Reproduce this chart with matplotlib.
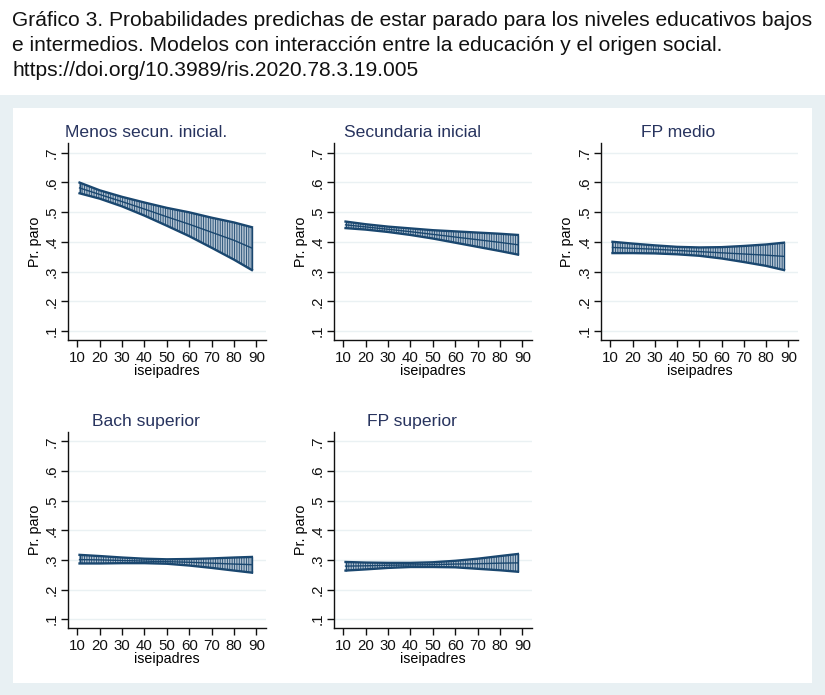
import matplotlib.pyplot as plt
from matplotlib.patches import Rectangle

plt.rcParams['font.family'] = ['Liberation Sans', 'DejaVu Sans']
plt.rcParams['hatch.linewidth'] = 0.6

# Datos (probabilidad predicha e intervalo de confianza)
iseipadres = [11, 20, 30, 40, 50, 60, 70, 80, 88]

titulos = ["Menos secun. inicial.", "Secundaria inicial", "FP medio",
           "Bach superior", "FP superior"]

menos_sec_pred = [0.581, 0.559, 0.535, 0.510, 0.484, 0.459, 0.432, 0.405, 0.379]
menos_sec_sup = [0.599, 0.573, 0.551, 0.532, 0.514, 0.499, 0.481, 0.465, 0.449]
menos_sec_inf = [0.563, 0.545, 0.519, 0.488, 0.454, 0.419, 0.380, 0.340, 0.305]

sec_ini_pred = [0.457, 0.450, 0.442, 0.434, 0.425, 0.416, 0.407, 0.398, 0.390]
sec_ini_sup = [0.468, 0.459, 0.451, 0.445, 0.439, 0.435, 0.431, 0.427, 0.423]
sec_ini_inf = [0.446, 0.441, 0.433, 0.423, 0.411, 0.397, 0.383, 0.369, 0.357]

fp_medio_pred = [0.381, 0.378, 0.375, 0.371, 0.367, 0.363, 0.359, 0.355, 0.351]
fp_medio_sup = [0.400, 0.394, 0.388, 0.383, 0.381, 0.382, 0.386, 0.391, 0.397]
fp_medio_inf = [0.362, 0.362, 0.361, 0.358, 0.353, 0.344, 0.332, 0.319, 0.305]

bach_sup_pred = [0.301, 0.300, 0.298, 0.296, 0.294, 0.292, 0.289, 0.286, 0.284]
bach_sup_sup = [0.317, 0.313, 0.308, 0.304, 0.302, 0.303, 0.305, 0.308, 0.310]
bach_sup_inf = [0.288, 0.288, 0.289, 0.289, 0.287, 0.281, 0.273, 0.264, 0.257]

fp_sup_pred = [0.279, 0.280, 0.282, 0.283, 0.284, 0.286, 0.287, 0.289, 0.290]
fp_sup_sup = [0.293, 0.291, 0.290, 0.290, 0.292, 0.297, 0.304, 0.313, 0.320]
fp_sup_inf = [0.264, 0.268, 0.273, 0.276, 0.276, 0.275, 0.270, 0.265, 0.260]

y_ticks = [0.1, 0.2, 0.3, 0.4, 0.5, 0.6, 0.7]
y_tick_labels = ['.1', '.2', '.3', '.4', '.5', '.6', '.7']
x_ticks = [10, 20, 30, 40, 50, 60, 70, 80, 90]

titulo_grafico = ("Gráfico 3. Probabilidades predichas de estar parado para los niveles educativos bajos\n"
                  "e intermedios. Modelos con interacción entre la educación y el origen social.\n"
                  "https://doi.org/10.3989/ris.2020.78.3.19.005")

W, H = 825, 695
AZUL = '#1a476f'
TITULO_COLOR = '#27335e'


def px_axes(left, top, right, bottom):
    """Convierte píxeles a coordenadas de figura"""
    return [left / W, 1 - bottom / H, (right - left) / W, (bottom - top) / H]


def dibujar_panel(fig, pos, titulo, pred, sup, inf):
    ax = fig.add_axes(pos)
    ax.set_xlim(5.84, 94.3)
    ax.set_ylim(0.07, 0.732)

    for y in y_ticks:
        ax.axhline(y, color='#eaf1f3', linewidth=1.0, zorder=0)

    # Banda del intervalo con líneas verticales (como rcap de Stata)
    ax.fill_between(iseipadres, inf, sup, facecolor='#b3c3d2', edgecolor=AZUL,
                    hatch='|' * 7, linewidth=0, zorder=2)
    ax.plot(iseipadres, sup, color=AZUL, linewidth=1.7, zorder=3)
    ax.plot(iseipadres, inf, color=AZUL, linewidth=1.7, zorder=3)
    ax.plot(iseipadres, pred, color=AZUL, linewidth=1.0, zorder=3)
    ax.vlines([iseipadres[0], iseipadres[-1]], [inf[0], inf[-1]], [sup[0], sup[-1]],
              color=AZUL, linewidth=1.0, zorder=3)

    for s in ['top', 'right']:
        ax.spines[s].set_visible(False)
    for s in ['left', 'bottom']:
        ax.spines[s].set_linewidth(1.0)
        ax.spines[s].set_color('#111111')

    ax.set_yticks(y_ticks)
    ax.set_yticklabels(y_tick_labels, rotation=90, va='center')
    ax.set_xticks(x_ticks)
    ax.tick_params(axis='both', length=5, width=1.0, labelsize=10.8, colors='#111111')
    ax.tick_params(axis='y', pad=2)
    ax.tick_params(axis='x', pad=3)
    ax.set_ylabel('Pr. paro', fontsize=10.3, labelpad=2)
    ax.set_xlabel('iseipadres', fontsize=10.3, labelpad=-1)
    ax.text(0.394, 1.055, titulo, transform=ax.transAxes, ha='center', va='center',
            fontsize=12.6, color=TITULO_COLOR)
    return ax


def main():
    fig = plt.figure(figsize=(W / 100, H / 100), dpi=100)
    fig.patch.set_facecolor('white')

    # Fondo azul claro y región blanca interior
    fig.add_artist(Rectangle((0, 0), 1, (H - 95) / H, transform=fig.transFigure,
                             facecolor='#e8f0f3', edgecolor='none', zorder=-10))
    fig.add_artist(Rectangle((13 / W, (H - 683) / H), (812 - 13) / W, (683 - 108) / H,
                             transform=fig.transFigure, facecolor='white',
                             edgecolor='none', zorder=-9))

    fig.text(12 / W, 1 - 11 / H, titulo_grafico, ha='left', va='top', fontsize=15.1,
             linespacing=1.4, color='#111111')

    columnas = [(68, 266), (334, 532), (601, 798)]
    filas = [(143, 340), (432, 628)]

    series = [
        (menos_sec_pred, menos_sec_sup, menos_sec_inf),
        (sec_ini_pred, sec_ini_sup, sec_ini_inf),
        (fp_medio_pred, fp_medio_sup, fp_medio_inf),
        (bach_sup_pred, bach_sup_sup, bach_sup_inf),
        (fp_sup_pred, fp_sup_sup, fp_sup_inf),
    ]

    for i, (pred, sup, inf) in enumerate(series):
        fila = filas[i // 3]
        col = columnas[i % 3]
        pos = px_axes(col[0], fila[0], col[1], fila[1])
        dibujar_panel(fig, pos, titulos[i], pred, sup, inf)

    fig.savefig('out.png', dpi=100, facecolor='white')


if __name__ == "__main__":
    main()
